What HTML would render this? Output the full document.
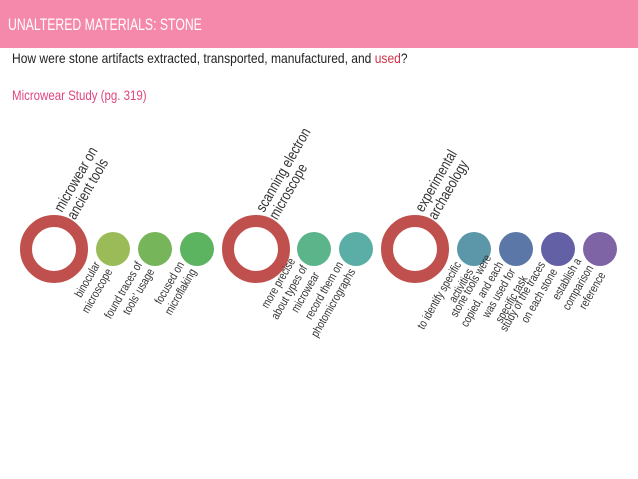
<!DOCTYPE html>
<html><head><meta charset="utf-8"><style>
body{margin:0;width:638px;height:479px;background:#fff;overflow:hidden;font-family:"Liberation Sans",sans-serif}
#hdr{position:absolute;left:0;top:0;width:638px;height:48px;background:#f589ab}
#ttl{position:absolute;left:8px;top:15px;color:#fff;font-size:17px;transform:scaleX(0.72);transform-origin:0 0;white-space:nowrap}
#q{position:absolute;left:12px;top:50px;font-size:14px;color:#222;transform:scaleX(0.86);transform-origin:0 0;white-space:nowrap}
#sub{position:absolute;left:12px;top:87px;font-size:14px;color:#e0457f;transform:scaleX(0.82);transform-origin:0 0;white-space:nowrap}
svg{position:absolute;left:0;top:0}
</style></head><body>
<div id="hdr"></div>
<div id="ttl">UNALTERED MATERIALS: STONE</div>
<div id="q">How were stone artifacts extracted, transported, manufactured, and <span style="color:#d0344a">used</span>?</div>
<div id="sub">Microwear Study (pg. 319)</div>
<svg id="d" width="638" height="479"></svg>
<script>
const rings=[[54,["microwear on","ancient tools"]],[256,["scanning electron","microscope"]],[415,["experimental","archaeology"]]];
const dots=[[113,"#9bbb59",["binocular","microscope"]],[155,"#77b55a",["found traces of","tools' usage"]],[197,"#5cb461",["focused on","microflaking"]],
[314,"#5bb48a",["more precise","about types of","microwear"]],[356,"#5baea6",["record them on","photomicrographs"]],
[474,"#5b97a9",["to identify specific","activities"]],[516,"#5b77a8",["stone tools were","copied, and each","was used for","specific task"]],
[558,"#6460a5",["study of the traces","on each stone"]],[600,"#7f64a5",["establish a","comparison","reference"]]];
const NS="http://www.w3.org/2000/svg",svg=document.getElementById('d'),CY=249;
function mk(t,a){const e=document.createElementNS(NS,t);for(const k in a)e.setAttribute(k,a[k]);svg.appendChild(e);return e;}
function label(x,y,lines,anchor,name,fs,lh){
 const t=mk('text',{transform:`translate(${x},${y}) rotate(-60) scale(0.8,1)`,'text-anchor':anchor,'font-size':fs,fill:'#333'});
 
 
 lines.forEach((l,i)=>{const s=document.createElementNS(NS,'tspan');s.setAttribute('x',0);s.setAttribute('dy',i?lh:0);s.textContent=l;t.appendChild(s);});
}
rings.forEach((r,i)=>{
 const c=mk('circle',{cx:r[0],cy:CY,r:28,fill:'none',stroke:'#c0504d','stroke-width':12});
 
 
 label(r[0]+8,213,r[1],'start','ring-label-'+(i+1),15,15);
});
dots.forEach((d,i)=>{
 const c=mk('circle',{cx:d[0],cy:CY,r:17,fill:d[1]});
 
 
 const n=d[2].length,o=-(n-1)/2;
 label(d[0]-6.5+o*12,268+o*7,d[2],'end','dot-label-'+(i+1),12,14);
});
</script>
</body></html>
